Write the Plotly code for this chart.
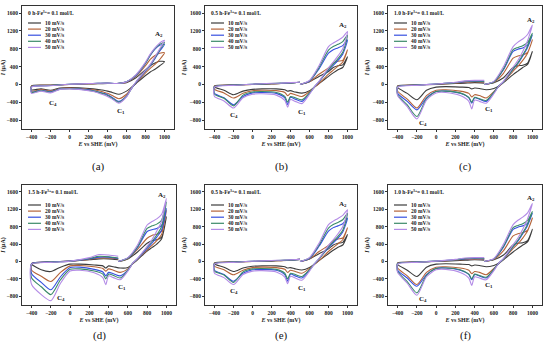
import plotly.graph_objects as go

# ---------------- data ----------------
E_VERTEX = [500, 600, 700, 800, 850, 900, 950, 1000]
E_RETURN = [950, 900, 850, 800, 700, 650, 600, 520, 450, 400, 370, 340, 250, 100, 0, -100, -200, -300, -400]
E_CLOSE = [-400, -200, 0, 200, 300, 400, 500]
E_SCAN = E_VERTEX + E_RETURN + E_CLOSE

RATES = ["10 mV/s", "20 mV/s", "30 mV/s", "40 mV/s", "50 mV/s"]
X_TICKS = [-400, -200, 0, 200, 400, 600, 800, 1000]
Y_TICKS = [-800, -400, 0, 400, 800, 1200, 1600]

# (a) 0 h
A_10 = [20, 40, 150, 330, 420, 480, 520, 510,
        420, 340, 280, 200, 20, -70, -150, -220, -180, -150, -135, -125, -100, -75, -70, -80, -130, -100, -120,
        -30, -15, 0, 10, 15, 20, 20]
A_20 = [20, 50, 180, 420, 560, 650, 700, 710,
        560, 450, 360, 260, 30, -90, -220, -320, -250, -200, -180, -160, -120, -90, -80, -90, -150, -115, -150,
        -40, -20, 0, 15, 20, 25, 20]
A_30 = [20, 60, 200, 470, 650, 790, 880, 900,
        750, 580, 420, 300, 40, -100, -260, -380, -290, -230, -205, -190, -140, -100, -90, -100, -165, -130, -170,
        -50, -25, 5, 20, 25, 30, 20]
A_40 = [20, 60, 210, 480, 660, 810, 900, 940,
        780, 600, 440, 310, 50, -100, -270, -400, -310, -250, -220, -200, -150, -105, -95, -105, -175, -140, -180,
        -55, -25, 5, 20, 25, 30, 20]
A_50 = [20, 60, 220, 500, 680, 820, 930, 990,
        800, 620, 450, 320, 60, -100, -280, -420, -330, -270, -240, -220, -160, -110, -100, -110, -190, -150, -200,
        -60, -30, 5, 20, 25, 30, 20]

# (b) / (e) 0.5 h
B_10 = [0, 60, 180, 290, 380, 420, 440, 620,
        380, 330, 260, 180, 20, -60, -140, -195, -170, -140, -150, -120, -100, -100, -110, -150, -230, -130, -60,
        -30, -10, 0, 10, 20, 30, 50]
B_20 = [0, 60, 230, 370, 480, 520, 540, 775,
        500, 410, 320, 230, 20, -70, -160, -270, -230, -200, -250, -180, -140, -130, -140, -200, -305, -190, -110,
        -40, -10, 0, 15, 20, 30, 50]
B_30 = [0, 70, 350, 700, 780, 820, 870, 1000,
        680, 540, 430, 320, 60, -60, -200, -380, -330, -290, -455, -300, -200, -180, -190, -270, -455, -300, -200,
        -50, -15, 5, 20, 25, 35, 50]
B_40 = [0, 80, 380, 770, 850, 900, 960, 1110,
        720, 580, 460, 340, 60, -60, -190, -345, -300, -270, -400, -270, -180, -160, -170, -240, -480, -310, -220,
        -50, -15, 5, 20, 30, 35, 50]
B_50 = [0, 90, 420, 850, 930, 990, 1060, 1190,
        800, 640, 500, 370, 70, -60, -220, -430, -380, -340, -510, -360, -240, -210, -220, -300, -530, -370, -270,
        -60, -20, 5, 25, 30, 40, 50]

# (c) / (f) 1.0 h
C_10 = [0, 40, 150, 380, 420, 430, 480, 740,
        450, 380, 300, 220, 40, -40, -90, -120, -90, -80, -100, -70, -60, -50, -60, -130, -345, -200, -70,
        -30, -10, 0, 20, 30, 40, 30]
C_20 = [0, 50, 250, 590, 640, 660, 720, 1000,
        700, 540, 410, 300, 50, -50, -160, -305, -250, -230, -280, -200, -150, -120, -130, -250, -530, -330, -150,
        -40, -10, 5, 30, 50, 60, 50]
C_30 = [0, 60, 330, 740, 790, 820, 880, 1110,
        830, 640, 470, 340, 60, -40, -180, -380, -330, -300, -420, -300, -200, -150, -160, -300, -570, -380, -200,
        -50, -15, 10, 40, 60, 70, 60]
C_40 = [0, 60, 350, 780, 830, 870, 940, 1150,
        860, 660, 490, 350, 60, -40, -180, -360, -320, -290, -400, -290, -190, -150, -160, -320, -720, -460, -230,
        -50, -15, 10, 40, 70, 80, 70]
C_50 = [0, 70, 400, 850, 950, 1020, 1120, 1335,
        980, 740, 540, 390, 70, -40, -210, -420, -380, -350, -550, -380, -250, -180, -190, -350, -775, -500, -250,
        -60, -20, 10, 50, 80, 90, 90]

# (d) 1.5 h
D_10 = [0, 60, 220, 420, 480, 500, 560, 1030,
        520, 400, 320, 240, 40, -50, -140, -150, -120, -100, -150, -100, -80, -60, -60, -130, -230, -190, -60,
        -40, -10, 10, 40, 60, 60, 40]
D_20 = [0, 70, 280, 535, 600, 630, 700, 1180,
        620, 480, 370, 270, 50, -50, -170, -250, -200, -170, -220, -160, -120, -90, -100, -250, -460, -340, -200,
        -50, -10, 10, 50, 80, 80, 60]
D_30 = [0, 80, 320, 690, 730, 760, 830, 1220,
        720, 560, 420, 300, 60, -40, -200, -330, -280, -250, -330, -240, -180, -130, -140, -350, -650, -480, -280,
        -50, -10, 10, 60, 100, 100, 70]
D_40 = [0, 80, 340, 760, 820, 860, 950, 1370,
        800, 610, 460, 330, 60, -40, -200, -380, -320, -290, -400, -290, -220, -170, -180, -420, -760, -580, -380,
        -60, -15, 10, 70, 120, 110, 80]
D_50 = [0, 90, 380, 840, 920, 980, 1080, 1450,
        920, 700, 500, 350, 70, -40, -220, -420, -370, -330, -535, -370, -260, -200, -220, -500, -900, -760, -530,
        -60, -20, 10, 90, 160, 150, 120]

PANELS = [
    ("(a)", "0 h-Fe<sup>3+</sup>= 0.1 mol/L", [A_10, A_20, A_30, A_40, A_50]),
    ("(b)", "0.5 h-Fe<sup>3+</sup>= 0.1 mol/L", [B_10, B_20, B_30, B_40, B_50]),
    ("(c)", "1.0 h-Fe<sup>3+</sup>= 0.1 mol/L", [C_10, C_20, C_30, C_40, C_50]),
    ("(d)", "1.5 h-Fe<sup>3+</sup>= 0.1 mol/L", [D_10, D_20, D_30, D_40, D_50]),
    ("(e)", "0.5 h-Fe<sup>3+</sup>= 0.1 mol/L", [B_10, B_20, B_30, B_40, B_50]),
    ("(f)", "1.0 h-Fe<sup>3+</sup>= 0.1 mol/L", [C_10, C_20, C_30, C_40, C_50]),
]
# peak labels (text, E, I) per panel
PEAKS = [
    [("A<sub>2</sub>", 940, 1130), ("C<sub>1</sub>", 540, -600), ("C<sub>4</sub>", -170, -420)],
    [("A<sub>2</sub>", 950, 1330), ("C<sub>1</sub>", 520, -620), ("C<sub>4</sub>", -190, -680)],
    [("A<sub>2</sub>", 990, 1450), ("C<sub>1</sub>", 550, -550), ("C<sub>4</sub>", -140, -860)],
    [("A<sub>2</sub>", 950, 1540), ("C<sub>1</sub>", 535, -580), ("C<sub>4</sub>", -100, -840)],
    [("A<sub>2</sub>", 950, 1330), ("C<sub>1</sub>", 520, -620), ("C<sub>4</sub>", -190, -680)],
    [("A<sub>2</sub>", 990, 1450), ("C<sub>1</sub>", 550, -550), ("C<sub>4</sub>", -140, -860)],
]

# ---------------- style / layout ----------------
W, H = 550, 344
COLORS = ["#3d3d3d", "#b4643a", "#3650e0", "#3a8a68", "#b38be6"]
FONT = "Liberation Serif"
BOXES = [  # left, top, right, bottom in px
    (22, 6, 174, 129), (205, 6, 357, 129), (388, 6, 542, 129),
    (22, 185, 176, 305), (205, 185, 357, 305), (388, 185, 542, 305),
]


def fx(px):
    return px / W


def fy(py):
    return 1 - py / H


def bfont(size, color="#222"):
    return dict(family=FONT, size=size, color=color, weight="bold")


fig = go.Figure()
annotations = []
shapes = []
layout = {}

for k, ((label, title, curves), box) in enumerate(zip(PANELS, BOXES)):
    n = "" if k == 0 else str(k + 1)
    xa, ya = "x" + n, "y" + n
    L, T, R, B = box
    for rate, vals, col in zip(RATES, curves, COLORS):
        fig.add_trace(go.Scatter(
            x=E_SCAN, y=vals, mode="lines", name=rate, xaxis=xa, yaxis=ya,
            line=dict(color=col, width=1.1, shape="spline", smoothing=0.7),
            showlegend=False, hoverinfo="skip"))
    common = dict(showline=True, linecolor="#333", linewidth=1, mirror=True,
                  ticks="outside", ticklen=2, tickwidth=0.8, tickcolor="#333",
                  showgrid=False, zeroline=False, tickfont=bfont(5.5))
    layout["xaxis" + n] = dict(
        domain=[fx(L), fx(R)], anchor=ya, range=[-500, 1100], tickvals=X_TICKS,
        title=dict(text="<i>E</i> vs SHE (mV)", standoff=3, font=bfont(6)),
        **common)
    layout["yaxis" + n] = dict(
        domain=[fy(B), fy(T)], anchor=xa, range=[-1000, 1760], tickvals=Y_TICKS,
        title=dict(text="<i>I</i> (μA)", standoff=2, font=bfont(6)),
        **common)
    # legend box content
    annotations.append(dict(x=fx(L + 4), y=fy(T + 7), xref="paper", yref="paper",
                            text=title, showarrow=False,
                            xanchor="left", yanchor="middle", font=bfont(5.5)))
    start = T + 17 if T < 100 else T + 20
    for i, (rate, col) in enumerate(zip(RATES, COLORS)):
        yy = start + 6.1 * i
        shapes.append(dict(type="line", xref="paper", yref="paper",
                           x0=fx(L + 6), x1=fx(L + 19), y0=fy(yy), y1=fy(yy),
                           line=dict(color=col, width=1.2)))
        annotations.append(dict(x=fx(L + 21), y=fy(yy), xref="paper", yref="paper",
                                text=rate, showarrow=False,
                                xanchor="left", yanchor="middle", font=bfont(5.5)))
    for txt, ex, iy in PEAKS[k]:
        annotations.append(dict(x=ex, y=iy, xref=xa, yref=ya, text=txt,
                                showarrow=False, font=bfont(7)))
    # panel label
    annotations.append(dict(x=fx((L + R) / 2), y=fy(166 if T < 100 else 335),
                            xref="paper", yref="paper", text=label, showarrow=False,
                            xanchor="center", yanchor="middle",
                            font=dict(family=FONT, size=11, color="#111")))

fig.update_layout(
    width=W, height=H, margin=dict(l=0, r=0, t=0, b=0),
    paper_bgcolor="white", plot_bgcolor="white",
    showlegend=False, annotations=annotations, shapes=shapes, **layout)

fig.write_html("out.html", config={"displayModeBar": False},
               post_script="document.body.style.margin='0';document.body.style.overflow='hidden';")
